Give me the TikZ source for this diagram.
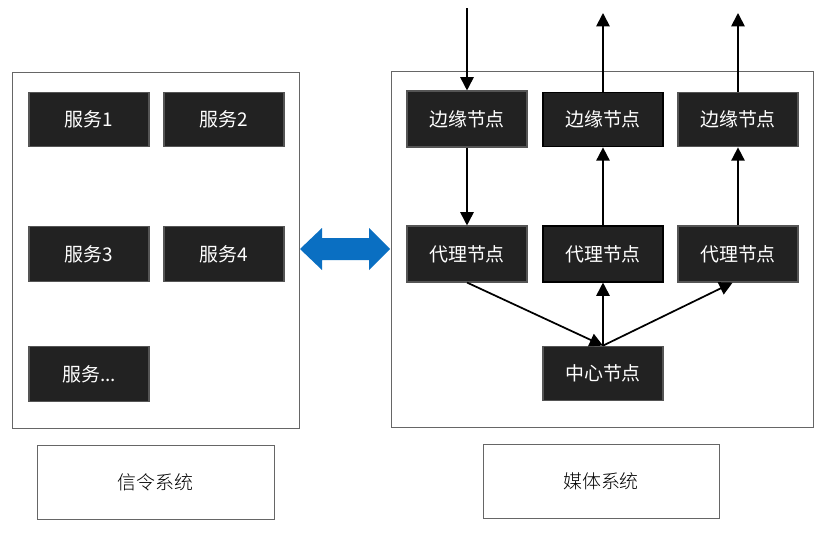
\documentclass[tikz,border=0pt]{standalone}
\usepackage{fontspec}
\setmainfont{Noto Sans CJK SC}
\newfontfamily\cjklight{Noto Sans CJK SC Light}
\usetikzlibrary{arrows.meta}
\definecolor{boxfill}{HTML}{222222}
\definecolor{boxline}{HTML}{555555}
\definecolor{frame}{HTML}{666666}
\definecolor{bluearrow}{HTML}{0A6FC2}
\tikzset{
  darkbox/.style={draw=boxline, line width=0.8pt, fill=boxfill, text=white, font=\fontsize{14.2pt}{16pt}\selectfont},
  container/.style={draw=frame, line width=0.7pt, fill=white},
  labelbox/.style={draw=frame, line width=0.7pt, fill=white, text=black, font=\cjklight\fontsize{14.2pt}{16pt}\selectfont},
  conn/.style={line width=1.3pt, -{Triangle[length=10pt,width=10pt]}}
}
\begin{document}
\begin{tikzpicture}[x=0.75pt,y=-0.75pt]
\useasboundingbox (0,0) rectangle (825,539);
% containers
\draw[container] (12,72) rectangle (299,428);
\draw[container] (391,71) rectangle (813,427);
% services
\node[darkbox, minimum width=90pt, minimum height=41pt] (s1) at (89,119.5) {服务1};
\node[darkbox, minimum width=90pt, minimum height=41pt] (s2) at (224,119.5) {服务2};
\node[darkbox, minimum width=90pt, minimum height=41pt] (s3) at (89,254) {服务3};
\node[darkbox, minimum width=90pt, minimum height=41pt] (s4) at (224,254) {服务4};
\node[darkbox, minimum width=90pt, minimum height=41pt] (s5) at (89,374) {服务...};
% media nodes
\node[darkbox, minimum width=90pt, minimum height=42pt] (e1) at (467,119) {边缘节点};
\node[darkbox, draw=black, minimum width=90pt, minimum height=41pt] (e2) at (603,119.5) {边缘节点};
\node[darkbox, minimum width=90pt, minimum height=41pt] (e3) at (738,119.5) {边缘节点};
\node[darkbox, minimum width=90pt, minimum height=42pt] (p1) at (467,254) {代理节点};
\node[darkbox, draw=black, minimum width=90pt, minimum height=42pt] (p2) at (603,254) {代理节点};
\node[darkbox, minimum width=90pt, minimum height=42pt] (p3) at (738,254) {代理节点};
\node[darkbox, minimum width=90pt, minimum height=41pt] (c) at (603,373.5) {中心节点};
% external ends
\coordinate (in1) at (467,8);
\coordinate (out2) at (603,13);
\coordinate (out3) at (738,13);
% connectors
\draw[conn] (in1) -- (e1.north);
\draw[conn] (e2.north) -- (out2);
\draw[conn] (e3.north) -- (out3);
\draw[conn] (e1.south) -- (p1.north);
\draw[conn] (p2.north) -- (e2.south);
\draw[conn] (p3.north) -- (e3.south);
\draw[conn] (p1.south) -- (c.north);
\draw[conn] (c.north) -- (p2.south);
\draw[conn] (c.north) -- ([xshift=-4pt]p3.south);
% blue double arrow
\fill[bluearrow] (300,249) -- (322,228) -- (322,238) -- (369,238) -- (369,228) -- (390,249)
  -- (369,270) -- (369,260) -- (322,260) -- (322,270) -- cycle;
% labels
\node[labelbox, minimum width=177.75pt, minimum height=55.5pt] (l1) at (155.5,482) {信令系统};
\node[labelbox, minimum width=177pt, minimum height=55.5pt] (l2) at (601,481) {媒体系统};
\end{tikzpicture}
\end{document}
